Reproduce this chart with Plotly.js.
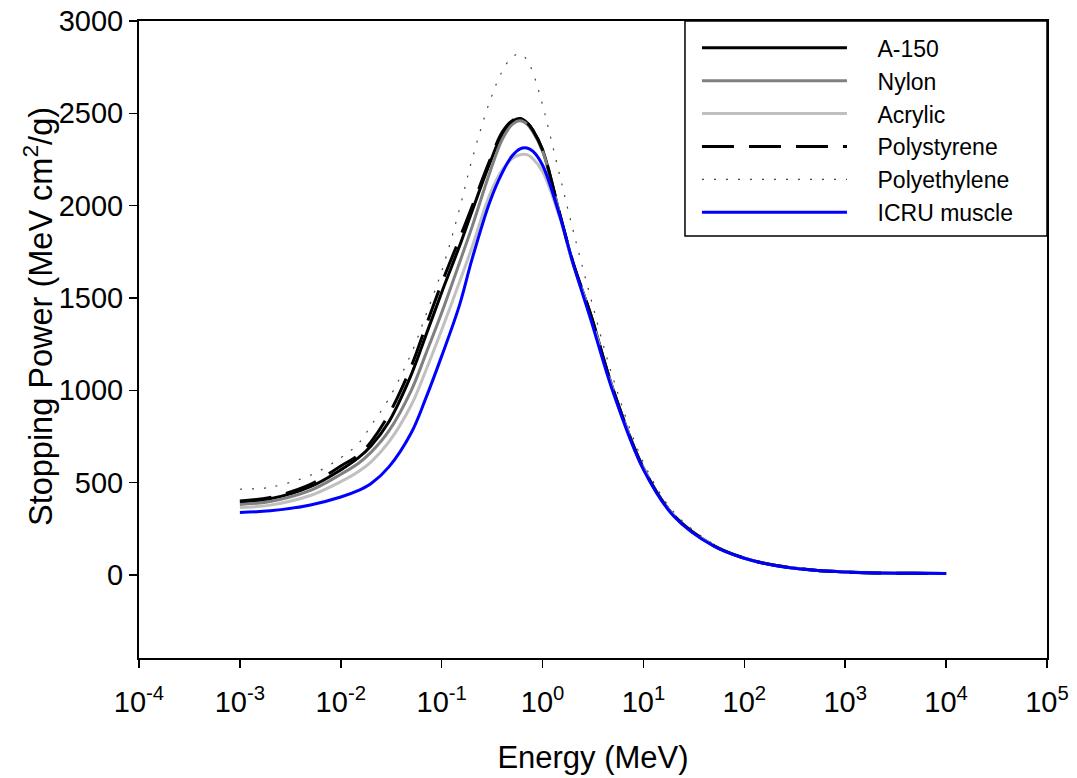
<!DOCTYPE html>
<html>
<head>
<meta charset="utf-8">
<script src="https://cdn.plot.ly/plotly-3.0.1.min.js"></script>
<style>html,body{margin:0;padding:0;background:#fff;}#chart{width:1077px;height:778px;}</style>
</head>
<body>
<div id="chart"></div>
<script>
// Energy (MeV)
const energy = [0.001, 0.002, 0.005, 0.01, 0.015, 0.02, 0.03, 0.05, 0.07, 0.1, 0.15, 0.2, 0.3, 0.4, 0.5, 0.6, 0.7, 0.8, 1, 1.5, 2, 3, 5, 10, 20, 50, 100, 200, 500, 1000, 2000, 5000, 10000];
// Stopping power (MeV cm^2/g)
const a150 =         [395, 412, 478, 569, 635, 700, 830, 1085, 1300, 1530, 1780, 1970, 2230, 2390, 2455, 2472, 2450, 2409, 2302, 1941, 1690, 1410, 1005, 578, 322, 158, 91, 52, 25, 16, 11, 8.6, 8.1];
const nylon =        [382, 398, 458, 545, 605, 665, 780, 1000, 1200, 1420, 1690, 1885, 2180, 2360, 2440, 2460, 2442, 2400, 2295, 1940, 1690, 1405, 1003, 577, 321, 157, 91, 52, 25, 16, 11, 8.6, 8.1];
const acrylic =      [365, 378, 430, 505, 560, 612, 720, 920, 1110, 1326, 1585, 1775, 2060, 2195, 2255, 2276, 2276, 2255, 2185, 1925, 1685, 1395, 995, 572, 319, 156, 90, 51, 25, 16, 11, 8.5, 8];
const polystyrene =  [400, 420, 490, 590, 650, 722, 870, 1130, 1350, 1580, 1820, 1995, 2245, 2400, 2460, 2472, 2450, 2409, 2302, 1945, 1695, 1410, 1005, 578, 322, 158, 91, 52, 25, 16, 11, 8.6, 8.1];
const polyethylene = [464, 475, 540, 635, 712, 810, 955, 1200, 1410, 1645, 1980, 2250, 2565, 2730, 2805, 2823, 2790, 2722, 2545, 2150, 1870, 1500, 1065, 610, 340, 166, 96, 55, 27, 17, 12, 9, 8.6];
const icruMuscle =   [338, 347, 379, 422, 458, 495, 585, 770, 960, 1185, 1460, 1710, 2020, 2180, 2270, 2308, 2312, 2295, 2219, 1935, 1690, 1385, 990, 570, 318, 155, 90, 51, 25, 16, 11, 8.5, 8];

const seriesNames = ["A-150", "Nylon", "Acrylic", "Polystyrene", "Polyethylene", "ICRU muscle"];
const xTickVals = [1e-4, 1e-3, 1e-2, 1e-1, 1, 10, 100, 1000, 10000, 100000];
const xTickText = ["10<sup>-4</sup>", "10<sup>-3</sup>", "10<sup>-2</sup>", "10<sup>-1</sup>", "10<sup>0</sup>", "10<sup>1</sup>", "10<sup>2</sup>", "10<sup>3</sup>", "10<sup>4</sup>", "10<sup>5</sup>"];
const yTickVals = [0, 500, 1000, 1500, 2000, 2500, 3000];
const xTitle = "Energy (MeV)";
const yTitle = "Stopping Power (MeV cm<sup>2</sup>/g)";

const FONT = "Liberation Sans, Arial, sans-serif";
const series = [a150, nylon, acrylic, polystyrene, polyethylene, icruMuscle];
const styles = [
  {color: "#000000", width: 3, dash: "solid"},
  {color: "#808080", width: 3, dash: "solid"},
  {color: "#c0c0c0", width: 3, dash: "solid"},
  {color: "#000000", width: 3, dash: "32px,15px"},
  {color: "#444444", width: 1.2, dash: "2px,10px"},
  {color: "#0000ff", width: 3, dash: "solid"}
];
const PAD = "\u00a0\u00a0\u00a0\u00a0";

const traces = series.map((ys, i) => ({
  x: energy, y: ys, name: PAD + seriesNames[i], type: "scatter", mode: "lines",
  line: Object.assign({shape: "spline", smoothing: 1}, styles[i])
}));

const layout = {
  width: 1077, height: 778,
  margin: {l: 139, r: 30, t: 21, b: 120},
  paper_bgcolor: "#fff", plot_bgcolor: "#fff",
  font: {family: FONT, size: 29, color: "#000"},
  showlegend: true,
  legend: {
    x: 0.6145, xanchor: "left", y: 0.9917, yanchor: "top",
    bgcolor: "rgba(0,0,0,0)", borderwidth: 0,
    font: {family: FONT, size: 23, color: "#000"},
    itemwidth: 145, tracegroupgap: 0
  },
  shapes: [{
    type: "rect", xref: "paper", yref: "paper",
    x0: 0.6013, x1: 1, y0: 0.6625, y1: 1,
    line: {color: "#000", width: 1.5}, fillcolor: "#fff", layer: "below"
  }],
  annotations: [{
    text: yTitle, xref: "paper", yref: "paper",
    x: -0.1112, y: 0.5353, xanchor: "center", yanchor: "middle",
    textangle: -90, showarrow: false,
    font: {family: FONT, size: 32.5, color: "#000"}
  }],
  xaxis: {
    type: "log", range: [-4, 5],
    tickvals: xTickVals, ticktext: xTickText,
    ticks: "outside", ticklen: 8, tickwidth: 1.5, tickcolor: "#000",
    ticklabelstandoff: 9,
    showline: true, linecolor: "#000", linewidth: 2, mirror: true,
    showgrid: false, zeroline: false,
    tickfont: {family: FONT, size: 29},
    title: {text: xTitle, font: {family: FONT, size: 31}, standoff: 30}
  },
  yaxis: {
    range: [-450, 3000],
    tickvals: yTickVals,
    ticks: "outside", ticklen: 8, tickwidth: 1.5, tickcolor: "#000",
    showline: true, linecolor: "#000", linewidth: 2, mirror: true,
    showgrid: false, zeroline: false,
    tickfont: {family: FONT, size: 29}
  }
};

Plotly.newPlot("chart", traces, layout, {displayModeBar: false, staticPlot: true});
</script>
</body>
</html>
